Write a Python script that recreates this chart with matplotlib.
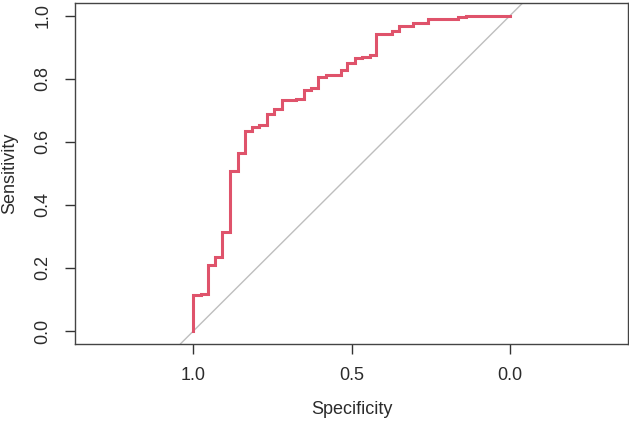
import matplotlib
matplotlib.use("Agg")
import matplotlib.pyplot as plt

# ROC curve vertices (specificity, sensitivity)
specificity = [1.0, 1.0, 0.977, 0.977, 0.952, 0.952, 0.931, 0.931, 0.909, 0.909,
               0.883, 0.883, 0.860, 0.860, 0.837, 0.837, 0.815, 0.815, 0.791, 0.791,
               0.768, 0.768, 0.745, 0.745, 0.720, 0.720, 0.675, 0.675, 0.652, 0.652,
               0.629, 0.629, 0.605, 0.605, 0.581, 0.581, 0.535, 0.535, 0.515, 0.515,
               0.489, 0.489, 0.466, 0.466, 0.442, 0.442, 0.423, 0.423, 0.373, 0.373,
               0.350, 0.350, 0.305, 0.305, 0.258, 0.258, 0.163, 0.163, 0.139, 0.139,
               0.092, 0.092, 0.0]
sensitivity = [0.0, 0.114, 0.114, 0.117, 0.117, 0.211, 0.211, 0.235, 0.235, 0.314,
               0.314, 0.509, 0.509, 0.564, 0.564, 0.633, 0.633, 0.646, 0.646, 0.654,
               0.654, 0.687, 0.687, 0.703, 0.703, 0.733, 0.733, 0.737, 0.737, 0.765,
               0.765, 0.771, 0.771, 0.804, 0.804, 0.813, 0.813, 0.829, 0.829, 0.851,
               0.851, 0.866, 0.866, 0.870, 0.870, 0.876, 0.876, 0.942, 0.942, 0.950,
               0.950, 0.968, 0.968, 0.976, 0.976, 0.990, 0.990, 0.995, 0.995, 0.998,
               0.998, 1.0, 1.0]

x_ticks = [1.0, 0.5, 0.0]
x_tick_labels = ["1.0", "0.5", "0.0"]
y_ticks = [0.0, 0.2, 0.4, 0.6, 0.8, 1.0]
y_tick_labels = ["0.0", "0.2", "0.4", "0.6", "0.8", "1.0"]

plt.rcParams['font.family'] = ['Liberation Sans', 'DejaVu Sans']

W, H = 629, 422
fig = plt.figure(figsize=(W / 100, H / 100), dpi=100)
left, right, top, bottom = 75, 628, 3, 343.7
ax = fig.add_axes([left / W, 1 - bottom / H, (right - left) / W, (bottom - top) / H])

ax.set_xlim(1.3735, -0.3726)
ax.set_ylim(-0.04, 1.04)

# diagonal reference line
ax.axline((1.0, 0.0), (0.0, 1.0), color="#BEBEBE", lw=1.0, zorder=1)
ax.plot(specificity, sensitivity, color="#DF536B", lw=2.2, zorder=2,
        solid_joinstyle="miter")

textc = "#2b2b2b"
fs = 13
ax.set_xticks(x_ticks)
ax.set_xticklabels(x_tick_labels)
ax.set_yticks(y_ticks)
ax.set_yticklabels(y_tick_labels, rotation=90, va="center")
ax.tick_params(axis="both", direction="out", length=7.5, width=1.0,
               color="#333333", labelsize=fs, labelcolor=textc, pad=9.5)
for s in ax.spines.values():
    s.set_color("#444444")
    s.set_linewidth(1.0)

ax.set_xlabel("Specificity", fontsize=fs, color=textc)
ax.set_ylabel("Sensitivity", fontsize=fs, color=textc)
ax.xaxis.label.set_va("center")
ax.yaxis.label.set_va("center")
ax.xaxis.set_label_coords(0.5, (bottom - 410) / (bottom - top))
ax.yaxis.set_label_coords((10 - left) / (right - left), 0.5)

fig.savefig("out.png", dpi=100)
